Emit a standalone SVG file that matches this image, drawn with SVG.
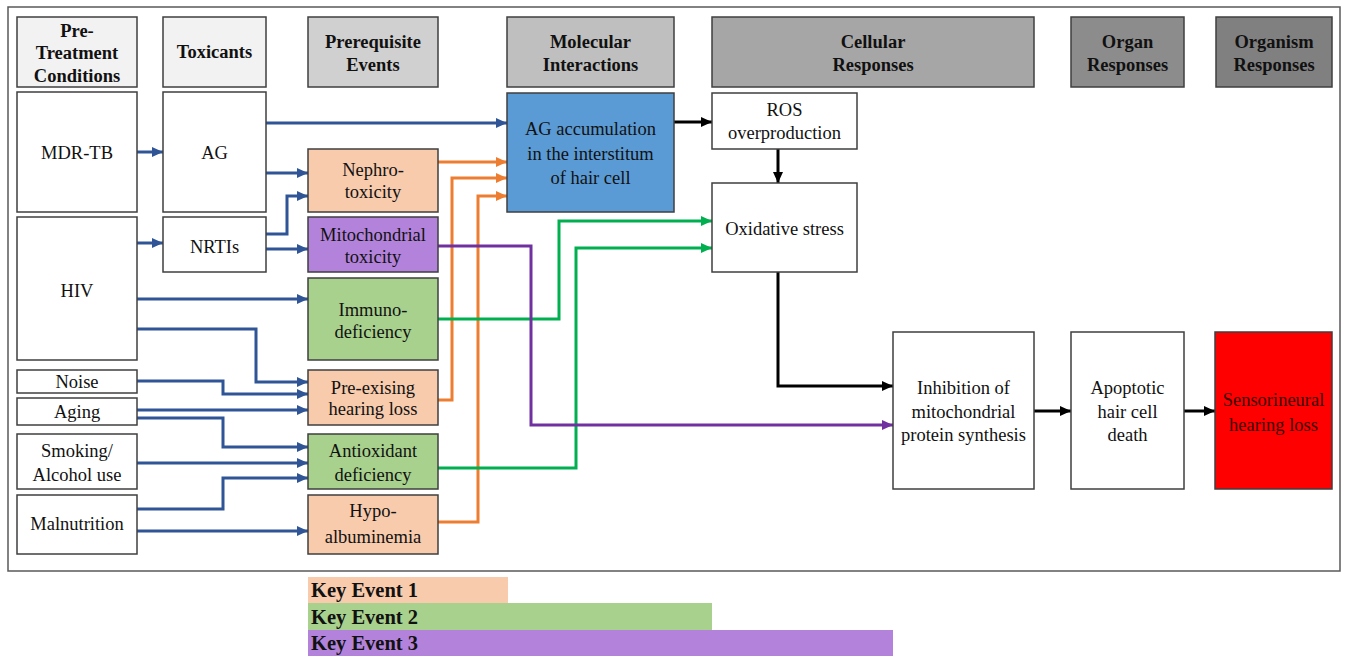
<svg xmlns="http://www.w3.org/2000/svg" width="1346" height="661" viewBox="0 0 1346 661">
<style>
text{font-family:"Liberation Serif","Times New Roman",serif;font-size:18.5px;fill:#111;text-anchor:middle}
.h text{font-weight:bold;font-size:18.5px}
.box{stroke:#3f3f3f;stroke-width:1.5}
.w{fill:#fff}
.pe{fill:#f8cbad}
.gr{fill:#a9d18e}
.pu{fill:#b383dc}
.c{fill:none;stroke-width:3}
.b{stroke:#2f5597}
.o{stroke:#ed7d31}
.g{stroke:#00b050}
.p{stroke:#7030a0}
.k{stroke:#000}
.key{font-weight:bold;font-size:20.5px;text-anchor:start}
</style>
<defs>
<marker id="ab" markerUnits="userSpaceOnUse" markerWidth="12" markerHeight="10" refX="11" refY="5" orient="auto"><path d="M0,0 L11,5 L0,10 z" fill="#2f5597"/></marker>
<marker id="ao" markerUnits="userSpaceOnUse" markerWidth="12" markerHeight="10" refX="11" refY="5" orient="auto"><path d="M0,0 L11,5 L0,10 z" fill="#ed7d31"/></marker>
<marker id="ag" markerUnits="userSpaceOnUse" markerWidth="12" markerHeight="10" refX="11" refY="5" orient="auto"><path d="M0,0 L11,5 L0,10 z" fill="#00b050"/></marker>
<marker id="ap" markerUnits="userSpaceOnUse" markerWidth="12" markerHeight="10" refX="11" refY="5" orient="auto"><path d="M0,0 L11,5 L0,10 z" fill="#7030a0"/></marker>
<marker id="ak" markerUnits="userSpaceOnUse" markerWidth="12" markerHeight="10" refX="11" refY="5" orient="auto"><path d="M0,0 L11,5 L0,10 z" fill="#000"/></marker>
</defs>
<rect x="0" y="0" width="1346" height="661" fill="#fff"/>
<rect x="8" y="7" width="1332" height="564" fill="#fff" stroke="#595959" stroke-width="1.5"/>

<g id="headers" class="h">
<g id="h-pretreatment"><rect class="box" x="17" y="17" width="120" height="70" fill="#f2f2f2"/><text x="77" y="37">Pre-</text><text x="77" y="59">Treatment</text><text x="77" y="82">Conditions</text></g>
<g id="h-toxicants"><rect class="box" x="163" y="17" width="103" height="70" fill="#f2f2f2"/><text x="214.5" y="58">Toxicants</text></g>
<g id="h-prereq"><rect class="box" x="308" y="17" width="130" height="70" fill="#d0d0d0"/><text x="373" y="48">Prerequisite</text><text x="373" y="71">Events</text></g>
<g id="h-molecular"><rect class="box" x="507" y="17" width="167" height="70" fill="#bfbfbf"/><text x="590.5" y="48">Molecular</text><text x="590.5" y="71">Interactions</text></g>
<g id="h-cellular"><rect class="box" x="712" y="17" width="322" height="70" fill="#a6a6a6"/><text x="873" y="48">Cellular</text><text x="873" y="71">Responses</text></g>
<g id="h-organ"><rect class="box" x="1071" y="17" width="113" height="70" fill="#8c8c8c"/><text x="1127.5" y="48">Organ</text><text x="1127.5" y="71">Responses</text></g>
<g id="h-organism"><rect class="box" x="1216" y="17" width="116" height="70" fill="#808080"/><text x="1274" y="48">Organism</text><text x="1274" y="71">Responses</text></g>
</g>

<g id="connectors">
<path class="c b" d="M137,152 H163" marker-end="url(#ab)"/>
<path class="c b" d="M266,123 H507" marker-end="url(#ab)"/>
<path class="c b" d="M266,173 H308" marker-end="url(#ab)"/>
<path class="c b" d="M266,234 H287 V196 H308" marker-end="url(#ab)"/>
<path class="c b" d="M266,249 H308" marker-end="url(#ab)"/>
<path class="c b" d="M137,243 H163" marker-end="url(#ab)"/>
<path class="c b" d="M137,299 H308" marker-end="url(#ab)"/>
<path class="c b" d="M137,329 H256 V382 H308" marker-end="url(#ab)"/>
<path class="c b" d="M137,381 H223 V394 H308" marker-end="url(#ab)"/>
<path class="c b" d="M137,410 H308" marker-end="url(#ab)"/>
<path class="c b" d="M137,418 H223 V447 H308" marker-end="url(#ab)"/>
<path class="c b" d="M137,463 H308" marker-end="url(#ab)"/>
<path class="c b" d="M137,509 H223 V478 H308" marker-end="url(#ab)"/>
<path class="c b" d="M137,531 H308" marker-end="url(#ab)"/>
<path class="c o" d="M438,162 H507" marker-end="url(#ao)"/>
<path class="c o" d="M438,400 H452 V178 H507" marker-end="url(#ao)"/>
<path class="c o" d="M438,522 H478 V196 H507" marker-end="url(#ao)"/>
<path class="c g" d="M438,319 H559 V221 H712" marker-end="url(#ag)"/>
<path class="c g" d="M438,468 H576 V248 H712" marker-end="url(#ag)"/>
<path class="c p" d="M438,246 H531 V425 H893" marker-end="url(#ap)"/>
<path class="c k" d="M674,122 H712" marker-end="url(#ak)"/>
<path class="c k" d="M778,149 V183" marker-end="url(#ak)"/>
<path class="c k" d="M778,272 V386 H893" marker-end="url(#ak)"/>
<path class="c k" d="M1034,411 H1071" marker-end="url(#ak)"/>
<path class="c k" d="M1184,411 H1215" marker-end="url(#ak)"/>
</g>

<g id="n-mdrtb"><rect class="box w" x="17" y="92" width="120" height="120"/><text x="77" y="159">MDR-TB</text></g>
<g id="n-ag"><rect class="box w" x="163" y="92" width="103" height="120"/><text x="214.5" y="159">AG</text></g>
<g id="n-hiv"><rect class="box w" x="17" y="217" width="120" height="143"/><text x="77" y="297">HIV</text></g>
<g id="n-nrtis"><rect class="box w" x="163" y="217" width="103" height="55"/><text x="214.5" y="253">NRTIs</text></g>
<g id="n-noise"><rect class="box w" x="17" y="370" width="120" height="23"/><text x="77" y="388">Noise</text></g>
<g id="n-aging"><rect class="box w" x="17" y="398" width="120" height="27"/><text x="77" y="418">Aging</text></g>
<g id="n-smoking"><rect class="box w" x="17" y="434" width="120" height="55"/><text x="77" y="457">Smoking/</text><text x="77" y="481">Alcohol use</text></g>
<g id="n-malnutrition"><rect class="box w" x="17" y="495" width="120" height="59"/><text x="77" y="530">Malnutrition</text></g>

<g id="n-nephro"><rect class="box pe" x="308" y="149" width="130" height="63"/><text x="373" y="176">Nephro-</text><text x="373" y="198">toxicity</text></g>
<g id="n-mito"><rect class="box pu" x="308" y="217" width="130" height="55"/><text x="373" y="241">Mitochondrial</text><text x="373" y="263">toxicity</text></g>
<g id="n-immuno"><rect class="box gr" x="308" y="278" width="130" height="82"/><text x="373" y="316">Immuno-</text><text x="373" y="338">deficiency</text></g>
<g id="n-prehl"><rect class="box pe" x="308" y="370" width="130" height="55"/><text x="373" y="394">Pre-exising</text><text x="373" y="415">hearing loss</text></g>
<g id="n-antiox"><rect class="box gr" x="308" y="434" width="130" height="55"/><text x="373" y="457">Antioxidant</text><text x="373" y="481">deficiency</text></g>
<g id="n-hypo"><rect class="box pe" x="308" y="495" width="130" height="59"/><text x="373" y="517">Hypo-</text><text x="373" y="543">albuminemia</text></g>

<g id="n-agacc"><rect class="box" x="507" y="93" width="167" height="119" fill="#5b9bd5"/><text x="590.5" y="135">AG accumulation</text><text x="590.5" y="160">in the interstitum</text><text x="590.5" y="184">of hair cell</text></g>
<g id="n-ros"><rect class="box w" x="712" y="93" width="145" height="56"/><text x="784.5" y="116">ROS</text><text x="784.5" y="139">overproduction</text></g>
<g id="n-oxstress"><rect class="box w" x="712" y="183" width="145" height="89"/><text x="784.5" y="235">Oxidative stress</text></g>
<g id="n-inhibition"><rect class="box w" x="893" y="332" width="141" height="157"/><text x="963.5" y="394">Inhibition of</text><text x="963.5" y="418">mitochondrial</text><text x="963.5" y="441">protein synthesis</text></g>
<g id="n-apoptotic"><rect class="box w" x="1071" y="332" width="113" height="157"/><text x="1127.5" y="394">Apoptotic</text><text x="1127.5" y="418">hair cell</text><text x="1127.5" y="441">death</text></g>
<g id="n-snhl"><rect class="box" x="1215" y="332" width="117" height="157" fill="#ff0000"/><text x="1273.5" y="406" style="fill:#3a0000">Sensorineural</text><text x="1273.5" y="431" style="fill:#3a0000">hearing loss</text></g>

<g id="legend">
<rect x="308" y="577" width="200" height="26" fill="#f8cbad"/><text class="key" x="311" y="597">Key Event 1</text>
<rect x="308" y="603" width="404" height="27" fill="#a9d18e"/><text class="key" x="311" y="624">Key Event 2</text>
<rect x="308" y="630" width="585" height="26" fill="#b383dc"/><text class="key" x="311" y="650">Key Event 3</text>
</g>
</svg>
